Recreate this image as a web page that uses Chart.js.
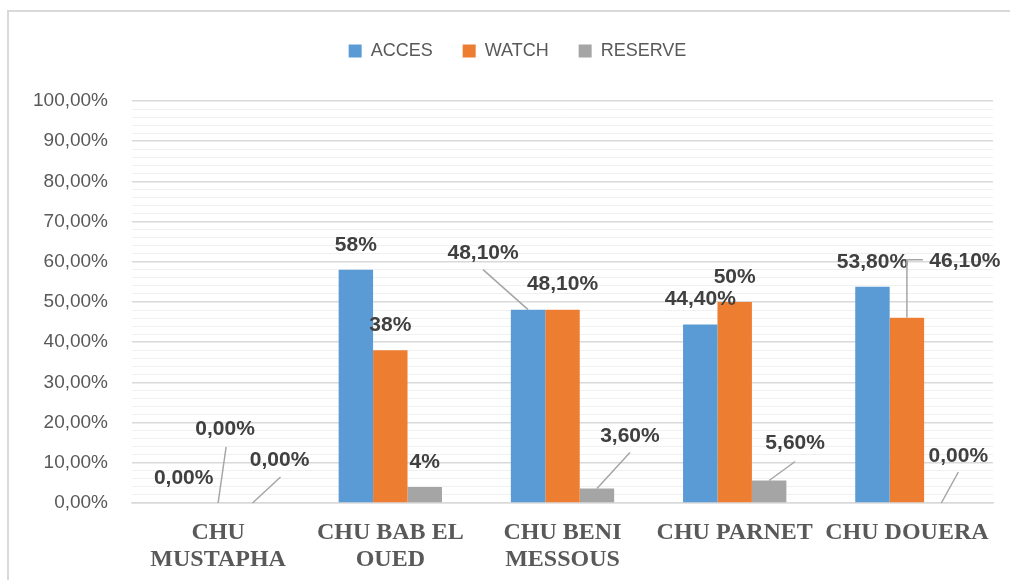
<!DOCTYPE html>
<html>
<head>
<meta charset="utf-8">
<script src="https://cdn.jsdelivr.net/npm/chart.js@4.4.1/dist/chart.umd.min.js"></script>
<style>
    body { margin: 0; background: #fff; }
    #wrap { width: 1010px; height: 580px; position: relative; }
</style>
</head>
<body>
<div id="wrap"><canvas id="myChart" width="1010" height="580"></canvas></div>
<script>
// chart data
const categories = [['CHU', 'MUSTAPHA'], ['CHU BAB EL', 'OUED'], ['CHU BENI', 'MESSOUS'], 'CHU PARNET', 'CHU DOUERA'];
const seriesNames = ['ACCES', 'WATCH', 'RESERVE'];
const accesValues = [0, 58, 48.1, 44.4, 53.8];
const watchValues = [0, 38, 48.1, 50, 46.1];
const reserveValues = [0, 4, 3.6, 5.6, 0];
const accesLabels = ['0,00%', '58%', '48,10%', '44,40%', '53,80%'];
const watchLabels = ['0,00%', '38%', '48,10%', '50%', '46,10%'];
const reserveLabels = ['0,00%', '4%', '3,60%', '5,60%', '0,00%'];
const yTicks = [0, 10, 20, 30, 40, 50, 60, 70, 80, 90, 100];

const colors = ['#5B9BD5', '#ED7D31', '#A5A5A5'];

// label placement, relative to the top of each bar (dx, dy = text centre, leader = line points)
const labelPlacement = [
    [null, null, {dx: -45, dy: -56, leader: [[-45, -40]]}, null, null],
    [{dx: 7, dy: -74, leader: [[8, -56]]}, null, null, null, {dx: 58, dy: -56, leader: [[0, -58], [16, -58]]}],
    [{dx: 27, dy: -43, leader: [[28, -26]]}, null, {dx: 33, dy: -52, leader: [[33, -36]]}, {dx: 26, dy: -37, leader: [[26, -19]]}, {dx: 17, dy: -47, leader: [[17, -31]]}]
];

const frame = {
    id: 'frame',
    beforeInit(chart) {
        const legend = chart.legend;
        // extra room under the legend
        const fit = legend.fit;
        legend.fit = function () {
            fit.bind(legend)();
            this.height += 31;
        };
        // legend sits a bit right of centre
        const draw = legend.draw;
        legend.draw = function () {
            this.left += 42;
            draw.bind(legend)();
            this.left -= 42;
        };
    },
    beforeDraw(chart) {
        const ctx = chart.ctx;
        ctx.save();
        ctx.fillStyle = '#fff';
        ctx.fillRect(0, 0, chart.width, chart.height);
        ctx.strokeStyle = '#d9d9d9';
        ctx.lineWidth = 2;
        ctx.strokeRect(8, 11, chart.width + 10, chart.height + 10);
        ctx.restore();
    }
}

const barLabels = {
    id: 'barLabels',
    afterDatasetsDraw(chart) {
        const ctx = chart.ctx;
        const texts = [accesLabels, watchLabels, reserveLabels];
        ctx.save();
        ctx.font = 'bold 21px "Liberation Sans"';
        ctx.fillStyle = '#404040';
        ctx.textAlign = 'center';
        ctx.textBaseline = 'middle';
        chart.data.datasets.forEach((ds, i) => {
            let meta = chart.getDatasetMeta(i);
            meta.data.forEach((bar, j) => {
                let p = labelPlacement[i][j] || {dx: 0, dy: -25};
                if (p.leader) {
                    ctx.strokeStyle = '#a6a6a6';
                    ctx.lineWidth = 1.5;
                    ctx.beginPath();
                    ctx.moveTo(bar.x, bar.y);
                    p.leader.forEach(pt => ctx.lineTo(bar.x + pt[0], bar.y + pt[1]));
                    ctx.stroke();
                }
                ctx.fillText(texts[i][j], bar.x + p.dx, bar.y + p.dy);
            });
        });
        ctx.restore();
    }
}

const ctx = document.getElementById('myChart');
const myChart = new Chart(ctx, {
    type: 'bar',
    data: {
        labels: categories,
        datasets: [
            {label: seriesNames[0], data: accesValues, backgroundColor: colors[0]},
            {label: seriesNames[1], data: watchValues, backgroundColor: colors[1]},
            {label: seriesNames[2], data: reserveValues, backgroundColor: colors[2]}
        ]
    },
    options: {
        responsive: false,
        animation: false,
        categoryPercentage: 0.6,
        barPercentage: 1,
        layout: {
            padding: {top: 12, right: 17, left: 0, bottom: 0}
        },
        plugins: {
            tooltip: {enabled: false},
            legend: {
                position: 'top',
                labels: {
                    boxWidth: 13,
                    boxHeight: 13,
                    padding: 30,
                    color: '#595959',
                    font: {family: '"Liberation Sans"', size: 18}
                }
            }
        },
        scales: {
            x: {
                grid: {display: false, drawTicks: false},
                border: {color: '#d9d9d9', width: 1.5},
                ticks: {
                    padding: 17,
                    maxRotation: 0,
                    color: '#595959',
                    font: {family: '"Liberation Serif"', size: 24, weight: 'bold', lineHeight: 1.1}
                },
                afterFit(scale) { scale.height = 77; }
            },
            y: {
                min: 0,
                max: 100,
                border: {display: false},
                grid: {
                    drawTicks: false,
                    color: c => yTicks.includes(Math.round(c.tick.value)) ? '#d9d9d9' : '#f0f0f0',
                    lineWidth: c => yTicks.includes(Math.round(c.tick.value)) ? 1.5 : 1
                },
                ticks: {
                    stepSize: 2,
                    autoSkip: false,
                    padding: 24,
                    color: '#595959',
                    font: {family: '"Liberation Sans"', size: 19},
                    callback: v => yTicks.includes(Math.round(v)) ? v.toFixed(2).replace('.', ',') + '%' : ''
                },
                afterFit(scale) { scale.width = 132; }
            }
        }
    },
    plugins: [frame, barLabels]
});
</script>
</body>
</html>
